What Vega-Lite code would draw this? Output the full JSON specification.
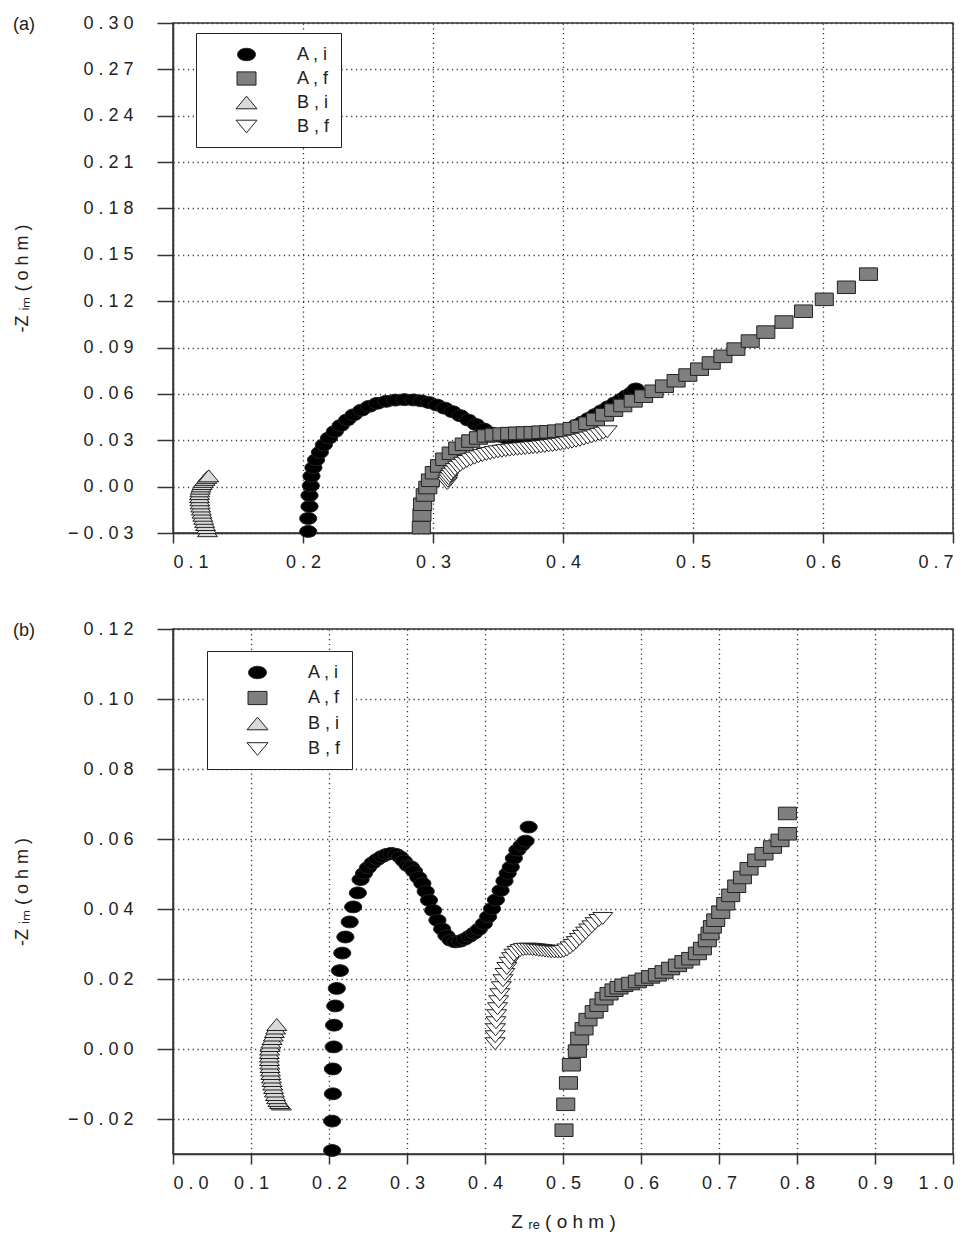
{
  "$schema": "https://vega.github.io/schema/vega-lite/v6.json",
  "background": "white",
  "padding": {"left": 12, "top": 13, "right": 0, "bottom": 0},
  "spacing": 96,
  "bounds": "flush",
  "resolve": {"legend": {"color": "independent", "shape": "independent"}},
  "datasets": {
    "a": [
      {"s":"A , i","x":0.204,"y":-0.029},{"s":"A , i","x":0.204,"y":-0.0206},{"s":"A , i","x":0.205,"y":-0.0128},{"s":"A , i","x":0.205,"y":-0.0057},{"s":"A , i","x":0.206,"y":0.0006},{"s":"A , i","x":0.2065,"y":0.0068},{"s":"A , i","x":0.208,"y":0.0123},{"s":"A , i","x":0.21,"y":0.0173},{"s":"A , i","x":0.213,"y":0.0222},{"s":"A , i","x":0.216,"y":0.027},{"s":"A , i","x":0.22,"y":0.0315},{"s":"A , i","x":0.2245,"y":0.0357},{"s":"A , i","x":0.229,"y":0.0396},{"s":"A , i","x":0.234,"y":0.0432},{"s":"A , i","x":0.239,"y":0.0465},{"s":"A , i","x":0.245,"y":0.0495},{"s":"A , i","x":0.251,"y":0.052},{"s":"A , i","x":0.257,"y":0.0539},{"s":"A , i","x":0.264,"y":0.0552},{"s":"A , i","x":0.271,"y":0.056},{"s":"A , i","x":0.278,"y":0.0563},{"s":"A , i","x":0.285,"y":0.0561},{"s":"A , i","x":0.291,"y":0.0555},{"s":"A , i","x":0.297,"y":0.0544},{"s":"A , i","x":0.303,"y":0.0528},{"s":"A , i","x":0.309,"y":0.0508},{"s":"A , i","x":0.315,"y":0.0485},{"s":"A , i","x":0.321,"y":0.0459},{"s":"A , i","x":0.327,"y":0.0431},{"s":"A , i","x":0.333,"y":0.0402},{"s":"A , i","x":0.339,"y":0.0373},{"s":"A , i","x":0.345,"y":0.0347},{"s":"A , i","x":0.351,"y":0.0326},{"s":"A , i","x":0.357,"y":0.0312},{"s":"A , i","x":0.363,"y":0.0306},{"s":"A , i","x":0.369,"y":0.0308},{"s":"A , i","x":0.375,"y":0.0314},{"s":"A , i","x":0.381,"y":0.0322},{"s":"A , i","x":0.387,"y":0.0332},{"s":"A , i","x":0.393,"y":0.0344},{"s":"A , i","x":0.399,"y":0.0358},{"s":"A , i","x":0.405,"y":0.0376},{"s":"A , i","x":0.41,"y":0.0396},{"s":"A , i","x":0.415,"y":0.0418},{"s":"A , i","x":0.42,"y":0.0442},{"s":"A , i","x":0.425,"y":0.0467},{"s":"A , i","x":0.43,"y":0.0492},{"s":"A , i","x":0.435,"y":0.0517},{"s":"A , i","x":0.44,"y":0.0542},{"s":"A , i","x":0.445,"y":0.0566},{"s":"A , i","x":0.449,"y":0.0588},{"s":"A , i","x":0.453,"y":0.0608},{"s":"A , i","x":0.456,"y":0.0632},
      {"s":"A , f","x":0.291,"y":-0.0265},{"s":"A , f","x":0.2915,"y":-0.0183},{"s":"A , f","x":0.292,"y":-0.0114},{"s":"A , f","x":0.294,"y":-0.0054},{"s":"A , f","x":0.296,"y":-0.0006},{"s":"A , f","x":0.298,"y":0.0041},{"s":"A , f","x":0.301,"y":0.009},{"s":"A , f","x":0.305,"y":0.0134},{"s":"A , f","x":0.309,"y":0.0177},{"s":"A , f","x":0.314,"y":0.0216},{"s":"A , f","x":0.319,"y":0.0248},{"s":"A , f","x":0.324,"y":0.0274},{"s":"A , f","x":0.329,"y":0.0295},{"s":"A , f","x":0.335,"y":0.0315},{"s":"A , f","x":0.341,"y":0.0328},{"s":"A , f","x":0.347,"y":0.0335},{"s":"A , f","x":0.353,"y":0.034},{"s":"A , f","x":0.359,"y":0.0343},{"s":"A , f","x":0.365,"y":0.0345},{"s":"A , f","x":0.371,"y":0.0347},{"s":"A , f","x":0.377,"y":0.0349},{"s":"A , f","x":0.383,"y":0.0352},{"s":"A , f","x":0.389,"y":0.0355},{"s":"A , f","x":0.395,"y":0.0359},{"s":"A , f","x":0.401,"y":0.0365},{"s":"A , f","x":0.407,"y":0.0375},{"s":"A , f","x":0.413,"y":0.039},{"s":"A , f","x":0.419,"y":0.041},{"s":"A , f","x":0.425,"y":0.0435},{"s":"A , f","x":0.432,"y":0.0465},{"s":"A , f","x":0.439,"y":0.0495},{"s":"A , f","x":0.446,"y":0.0525},{"s":"A , f","x":0.454,"y":0.0555},{"s":"A , f","x":0.462,"y":0.0585},{"s":"A , f","x":0.47,"y":0.0617},{"s":"A , f","x":0.478,"y":0.065},{"s":"A , f","x":0.487,"y":0.0685},{"s":"A , f","x":0.496,"y":0.0722},{"s":"A , f","x":0.505,"y":0.076},{"s":"A , f","x":0.514,"y":0.08},{"s":"A , f","x":0.523,"y":0.0843},{"s":"A , f","x":0.533,"y":0.089},{"s":"A , f","x":0.544,"y":0.0942},{"s":"A , f","x":0.556,"y":0.1},{"s":"A , f","x":0.57,"y":0.1065},{"s":"A , f","x":0.585,"y":0.1135},{"s":"A , f","x":0.601,"y":0.1212},{"s":"A , f","x":0.618,"y":0.129},{"s":"A , f","x":0.635,"y":0.1375},
      {"s":"B , i","x":0.1265,"y":-0.0285},{"s":"B , i","x":0.1258,"y":-0.0265},{"s":"B , i","x":0.125,"y":-0.0245},{"s":"B , i","x":0.1243,"y":-0.0225},{"s":"B , i","x":0.1236,"y":-0.0205},{"s":"B , i","x":0.1229,"y":-0.0185},{"s":"B , i","x":0.1223,"y":-0.0165},{"s":"B , i","x":0.1218,"y":-0.0145},{"s":"B , i","x":0.1213,"y":-0.0125},{"s":"B , i","x":0.1209,"y":-0.0105},{"s":"B , i","x":0.1206,"y":-0.0085},{"s":"B , i","x":0.1204,"y":-0.0065},{"s":"B , i","x":0.1204,"y":-0.0045},{"s":"B , i","x":0.1206,"y":-0.0027},{"s":"B , i","x":0.121,"y":-0.001},{"s":"B , i","x":0.1216,"y":0.0005},{"s":"B , i","x":0.1224,"y":0.002},{"s":"B , i","x":0.1234,"y":0.0034},{"s":"B , i","x":0.1246,"y":0.0047},{"s":"B , i","x":0.126,"y":0.006},{"s":"B , i","x":0.1275,"y":0.007},
      {"s":"B , f","x":0.311,"y":0.002},{"s":"B , f","x":0.3115,"y":0.0035},{"s":"B , f","x":0.312,"y":0.005},{"s":"B , f","x":0.313,"y":0.0065},{"s":"B , f","x":0.314,"y":0.008},{"s":"B , f","x":0.3155,"y":0.0095},{"s":"B , f","x":0.317,"y":0.011},{"s":"B , f","x":0.319,"y":0.0125},{"s":"B , f","x":0.321,"y":0.0138},{"s":"B , f","x":0.3235,"y":0.0151},{"s":"B , f","x":0.326,"y":0.0163},{"s":"B , f","x":0.329,"y":0.0174},{"s":"B , f","x":0.332,"y":0.0184},{"s":"B , f","x":0.335,"y":0.0193},{"s":"B , f","x":0.338,"y":0.0201},{"s":"B , f","x":0.341,"y":0.0208},{"s":"B , f","x":0.344,"y":0.0214},{"s":"B , f","x":0.347,"y":0.022},{"s":"B , f","x":0.35,"y":0.0225},{"s":"B , f","x":0.353,"y":0.0229},{"s":"B , f","x":0.356,"y":0.0233},{"s":"B , f","x":0.359,"y":0.0236},{"s":"B , f","x":0.362,"y":0.0239},{"s":"B , f","x":0.365,"y":0.0242},{"s":"B , f","x":0.368,"y":0.0244},{"s":"B , f","x":0.371,"y":0.0247},{"s":"B , f","x":0.374,"y":0.0249},{"s":"B , f","x":0.377,"y":0.0252},{"s":"B , f","x":0.38,"y":0.0254},{"s":"B , f","x":0.383,"y":0.0257},{"s":"B , f","x":0.386,"y":0.026},{"s":"B , f","x":0.389,"y":0.0263},{"s":"B , f","x":0.392,"y":0.0266},{"s":"B , f","x":0.395,"y":0.027},{"s":"B , f","x":0.398,"y":0.0274},{"s":"B , f","x":0.401,"y":0.0278},{"s":"B , f","x":0.404,"y":0.0283},{"s":"B , f","x":0.407,"y":0.0288},{"s":"B , f","x":0.41,"y":0.0294},{"s":"B , f","x":0.413,"y":0.03},{"s":"B , f","x":0.416,"y":0.0307},{"s":"B , f","x":0.419,"y":0.0314},{"s":"B , f","x":0.422,"y":0.0321},{"s":"B , f","x":0.425,"y":0.0329},{"s":"B , f","x":0.428,"y":0.0337},{"s":"B , f","x":0.431,"y":0.0346},{"s":"B , f","x":0.434,"y":0.0355}
    ],
    "b": [
      {"s":"A , i","x":0.204,"y":-0.029},{"s":"A , i","x":0.204,"y":-0.0206},{"s":"A , i","x":0.205,"y":-0.0128},{"s":"A , i","x":0.205,"y":-0.0057},{"s":"A , i","x":0.206,"y":0.0006},{"s":"A , i","x":0.2065,"y":0.0068},{"s":"A , i","x":0.208,"y":0.0123},{"s":"A , i","x":0.21,"y":0.0173},{"s":"A , i","x":0.214,"y":0.0224},{"s":"A , i","x":0.217,"y":0.0274},{"s":"A , i","x":0.221,"y":0.032},{"s":"A , i","x":0.2265,"y":0.0363},{"s":"A , i","x":0.231,"y":0.0406},{"s":"A , i","x":0.237,"y":0.0446},{"s":"A , i","x":0.2405,"y":0.0484},{"s":"A , i","x":0.245,"y":0.0502},{"s":"A , i","x":0.25,"y":0.0518},{"s":"A , i","x":0.256,"y":0.0532},{"s":"A , i","x":0.262,"y":0.0542},{"s":"A , i","x":0.268,"y":0.055},{"s":"A , i","x":0.274,"y":0.0556},{"s":"A , i","x":0.28,"y":0.0559},{"s":"A , i","x":0.286,"y":0.0556},{"s":"A , i","x":0.291,"y":0.0549},{"s":"A , i","x":0.296,"y":0.0537},{"s":"A , i","x":0.301,"y":0.0524},{"s":"A , i","x":0.305,"y":0.052},{"s":"A , i","x":0.309,"y":0.0508},{"s":"A , i","x":0.3145,"y":0.049},{"s":"A , i","x":0.3197,"y":0.0473},{"s":"A , i","x":0.324,"y":0.045},{"s":"A , i","x":0.3282,"y":0.0425},{"s":"A , i","x":0.3335,"y":0.0396},{"s":"A , i","x":0.339,"y":0.0368},{"s":"A , i","x":0.345,"y":0.0343},{"s":"A , i","x":0.3505,"y":0.0324},{"s":"A , i","x":0.356,"y":0.0311},{"s":"A , i","x":0.362,"y":0.0306},{"s":"A , i","x":0.368,"y":0.0308},{"s":"A , i","x":0.374,"y":0.0314},{"s":"A , i","x":0.38,"y":0.0322},{"s":"A , i","x":0.386,"y":0.0331},{"s":"A , i","x":0.392,"y":0.0342},{"s":"A , i","x":0.3985,"y":0.0358},{"s":"A , i","x":0.404,"y":0.0378},{"s":"A , i","x":0.409,"y":0.0401},{"s":"A , i","x":0.414,"y":0.0426},{"s":"A , i","x":0.42,"y":0.0453},{"s":"A , i","x":0.425,"y":0.048},{"s":"A , i","x":0.429,"y":0.0502},{"s":"A , i","x":0.433,"y":0.052},{"s":"A , i","x":0.437,"y":0.0545},{"s":"A , i","x":0.4415,"y":0.0568},{"s":"A , i","x":0.447,"y":0.0582},{"s":"A , i","x":0.452,"y":0.0594},{"s":"A , i","x":0.456,"y":0.0634},
      {"s":"A , f","x":0.5013,"y":-0.0232},{"s":"A , f","x":0.5035,"y":-0.0158},{"s":"A , f","x":0.507,"y":-0.0097},{"s":"A , f","x":0.5108,"y":-0.0045},{"s":"A , f","x":0.5184,"y":-0.0006},{"s":"A , f","x":0.5214,"y":0.003},{"s":"A , f","x":0.527,"y":0.0058},{"s":"A , f","x":0.532,"y":0.0084},{"s":"A , f","x":0.54,"y":0.0106},{"s":"A , f","x":0.546,"y":0.0125},{"s":"A , f","x":0.5526,"y":0.0144},{"s":"A , f","x":0.559,"y":0.0158},{"s":"A , f","x":0.5654,"y":0.0168},{"s":"A , f","x":0.5718,"y":0.0175},{"s":"A , f","x":0.578,"y":0.0182},{"s":"A , f","x":0.5868,"y":0.0187},{"s":"A , f","x":0.5954,"y":0.0193},{"s":"A , f","x":0.6039,"y":0.0199},{"s":"A , f","x":0.6124,"y":0.0206},{"s":"A , f","x":0.621,"y":0.0212},{"s":"A , f","x":0.6295,"y":0.022},{"s":"A , f","x":0.638,"y":0.023},{"s":"A , f","x":0.6467,"y":0.0239},{"s":"A , f","x":0.655,"y":0.0249},{"s":"A , f","x":0.6637,"y":0.0258},{"s":"A , f","x":0.6723,"y":0.0273},{"s":"A , f","x":0.6787,"y":0.0287},{"s":"A , f","x":0.685,"y":0.031},{"s":"A , f","x":0.6885,"y":0.033},{"s":"A , f","x":0.6915,"y":0.0349},{"s":"A , f","x":0.6958,"y":0.0368},{"s":"A , f","x":0.7022,"y":0.0391},{"s":"A , f","x":0.7086,"y":0.0415},{"s":"A , f","x":0.715,"y":0.0439},{"s":"A , f","x":0.7227,"y":0.0465},{"s":"A , f","x":0.73,"y":0.049},{"s":"A , f","x":0.7385,"y":0.0515},{"s":"A , f","x":0.7483,"y":0.0539},{"s":"A , f","x":0.7577,"y":0.0558},{"s":"A , f","x":0.7685,"y":0.0577},{"s":"A , f","x":0.7782,"y":0.0596},{"s":"A , f","x":0.7877,"y":0.0615},{"s":"A , f","x":0.7877,"y":0.0673},
      {"s":"B , i","x":0.139,"y":-0.0157},{"s":"B , i","x":0.1365,"y":-0.0153},{"s":"B , i","x":0.1345,"y":-0.0147},{"s":"B , i","x":0.1328,"y":-0.0139},{"s":"B , i","x":0.1313,"y":-0.013},{"s":"B , i","x":0.13,"y":-0.012},{"s":"B , i","x":0.1289,"y":-0.011},{"s":"B , i","x":0.1279,"y":-0.01},{"s":"B , i","x":0.127,"y":-0.009},{"s":"B , i","x":0.1262,"y":-0.008},{"s":"B , i","x":0.1255,"y":-0.007},{"s":"B , i","x":0.1249,"y":-0.006},{"s":"B , i","x":0.1244,"y":-0.005},{"s":"B , i","x":0.124,"y":-0.004},{"s":"B , i","x":0.1237,"y":-0.003},{"s":"B , i","x":0.1235,"y":-0.002},{"s":"B , i","x":0.1235,"y":-0.001},{"s":"B , i","x":0.1238,"y":0.0},{"s":"B , i","x":0.1245,"y":0.001},{"s":"B , i","x":0.1255,"y":0.002},{"s":"B , i","x":0.127,"y":0.003},{"s":"B , i","x":0.1285,"y":0.004},{"s":"B , i","x":0.13,"y":0.005},{"s":"B , i","x":0.1315,"y":0.006},{"s":"B , i","x":0.133,"y":0.007},
      {"s":"B , f","x":0.413,"y":0.0015},{"s":"B , f","x":0.413,"y":0.0035},{"s":"B , f","x":0.4135,"y":0.0055},{"s":"B , f","x":0.414,"y":0.0075},{"s":"B , f","x":0.415,"y":0.0095},{"s":"B , f","x":0.416,"y":0.0115},{"s":"B , f","x":0.4175,"y":0.0135},{"s":"B , f","x":0.419,"y":0.0155},{"s":"B , f","x":0.421,"y":0.0175},{"s":"B , f","x":0.423,"y":0.0195},{"s":"B , f","x":0.4255,"y":0.0213},{"s":"B , f","x":0.428,"y":0.023},{"s":"B , f","x":0.431,"y":0.0245},{"s":"B , f","x":0.434,"y":0.0258},{"s":"B , f","x":0.437,"y":0.0268},{"s":"B , f","x":0.441,"y":0.0276},{"s":"B , f","x":0.445,"y":0.0281},{"s":"B , f","x":0.449,"y":0.0284},{"s":"B , f","x":0.453,"y":0.0285},{"s":"B , f","x":0.457,"y":0.0285},{"s":"B , f","x":0.461,"y":0.0284},{"s":"B , f","x":0.465,"y":0.0283},{"s":"B , f","x":0.469,"y":0.0282},{"s":"B , f","x":0.473,"y":0.0281},{"s":"B , f","x":0.477,"y":0.028},{"s":"B , f","x":0.481,"y":0.0279},{"s":"B , f","x":0.485,"y":0.0278},{"s":"B , f","x":0.489,"y":0.0277},{"s":"B , f","x":0.493,"y":0.0277},{"s":"B , f","x":0.497,"y":0.0277},{"s":"B , f","x":0.501,"y":0.0279},{"s":"B , f","x":0.505,"y":0.0283},{"s":"B , f","x":0.509,"y":0.0289},{"s":"B , f","x":0.513,"y":0.0296},{"s":"B , f","x":0.517,"y":0.0304},{"s":"B , f","x":0.521,"y":0.0313},{"s":"B , f","x":0.525,"y":0.0322},{"s":"B , f","x":0.529,"y":0.0331},{"s":"B , f","x":0.533,"y":0.034},{"s":"B , f","x":0.537,"y":0.0349},{"s":"B , f","x":0.541,"y":0.0358},{"s":"B , f","x":0.546,"y":0.0367},{"s":"B , f","x":0.551,"y":0.0373}
    ]
  },
  "vconcat": [
    {
      "width": 780,
      "height": 510,
      "data": {"name": "a"},
      "title": {"text": "(a)", "anchor": "start", "frame": "group", "dx": -160, "dy": 20, "offset": 0, "fontSize": 18, "fontWeight": "normal", "font": "Liberation Sans", "color": "#222"},
      "mark": {"type": "point", "filled": true, "opacity": 1, "stroke": "#222", "strokeWidth": 1, "size": 361},
      "encoding": {
        "x": {"field": "x", "type": "quantitative", "scale": {"domain": [0.1, 0.7], "nice": false, "zero": false},
          "axis": {"title": null, "values": [0.1, 0.2, 0.3, 0.4, 0.5, 0.6, 0.7], "labelExpr": "join(split(format(datum.value,'.1f'),''),' ')"}},
        "y": {"field": "y", "type": "quantitative", "scale": {"domain": [-0.03, 0.3], "nice": false, "zero": false},
          "axis": {"title": "-Z ᵢₘ ( o h m )", "values": [-0.03, 0, 0.03, 0.06, 0.09, 0.12, 0.15, 0.18, 0.21, 0.24, 0.27, 0.3], "labelExpr": "join(split(format(datum.value,'.2f'),''),' ')"}},
        "color": {"field": "s", "type": "nominal", "sort": null,
          "scale": {"domain": ["A , i", "A , f", "B , i", "B , f"], "range": ["#000000", "#7f7f7f", "#d9d9d9", "#ffffff"]},
          "legend": {"orient": "none", "legendX": 23, "legendY": 10, "rowPadding": 4, "encode": {"symbols": {"update": {"stroke": {"value": "#222"}, "strokeWidth": {"value": 1}}}}}},
        "shape": {"field": "s", "type": "nominal", "sort": null,
          "scale": {"domain": ["A , i", "A , f", "B , i", "B , f"], "range": ["M-0.9,0A0.9,0.62,0,1,1,0.9,0A0.9,0.62,0,1,1,-0.9,0Z", "M-0.95,-0.66L0.95,-0.66L0.95,0.66L-0.95,0.66Z", "M0,-0.63L1.05,0.63L-1.05,0.63Z", "M-1.05,-0.63L1.05,-0.63L0,0.63Z"]},
          "legend": {"orient": "none", "legendX": 23, "legendY": 10, "rowPadding": 4, "encode": {"symbols": {"update": {"stroke": {"value": "#222"}, "strokeWidth": {"value": 1}}}}}}
      }
    },
    {
      "width": 780,
      "height": 525,
      "data": {"name": "b"},
      "title": {"text": "(b)", "anchor": "start", "frame": "group", "dx": -160, "dy": 20, "offset": 0, "fontSize": 18, "fontWeight": "normal", "font": "Liberation Sans", "color": "#222"},
      "mark": {"type": "point", "filled": true, "opacity": 1, "stroke": "#222", "strokeWidth": 1, "size": 361},
      "encoding": {
        "x": {"field": "x", "type": "quantitative", "scale": {"domain": [0, 1], "nice": false, "zero": false},
          "axis": {"title": "Z ᵣₑ ( o h m )", "values": [0, 0.1, 0.2, 0.3, 0.4, 0.5, 0.6, 0.7, 0.8, 0.9, 1.0], "labelExpr": "join(split(format(datum.value,'.1f'),''),' ')"}},
        "y": {"field": "y", "type": "quantitative", "scale": {"domain": [-0.03, 0.12], "nice": false, "zero": false},
          "axis": {"title": "-Z ᵢₘ ( o h m )", "values": [-0.02, 0, 0.02, 0.04, 0.06, 0.08, 0.1, 0.12], "labelExpr": "join(split(format(datum.value,'.2f'),''),' ')"}},
        "color": {"field": "s", "type": "nominal", "sort": null,
          "scale": {"domain": ["A , i", "A , f", "B , i", "B , f"], "range": ["#000000", "#7f7f7f", "#d9d9d9", "#ffffff"]},
          "legend": {"orient": "none", "legendX": 34, "legendY": 22, "rowPadding": 5.5, "encode": {"symbols": {"update": {"stroke": {"value": "#222"}, "strokeWidth": {"value": 1}}}}}},
        "shape": {"field": "s", "type": "nominal", "sort": null,
          "scale": {"domain": ["A , i", "A , f", "B , i", "B , f"], "range": ["M-0.9,0A0.9,0.62,0,1,1,0.9,0A0.9,0.62,0,1,1,-0.9,0Z", "M-0.95,-0.66L0.95,-0.66L0.95,0.66L-0.95,0.66Z", "M0,-0.63L1.05,0.63L-1.05,0.63Z", "M-1.05,-0.63L1.05,-0.63L0,0.63Z"]},
          "legend": {"orient": "none", "legendX": 34, "legendY": 22, "rowPadding": 5.5, "encode": {"symbols": {"update": {"stroke": {"value": "#222"}, "strokeWidth": {"value": 1}}}}}}
      }
    }
  ],
  "config": {
    "font": "Liberation Sans",
    "view": {"stroke": "#333", "strokeWidth": 1.5},
    "axis": {"labelFont": "Liberation Sans", "labelFontSize": 18, "labelColor": "#222", "titleFont": "Liberation Sans", "titleFontSize": 18, "titleFontWeight": "normal", "titleColor": "#222", "domainColor": "#333", "domainWidth": 1.5, "tickColor": "#333", "tickWidth": 1.5, "grid": true, "gridColor": "#333", "gridDash": [1.2, 3.6], "gridWidth": 1.3, "gridOpacity": 1, "labelOverlap": false},
    "axisY": {"tickSize": 16, "labelPadding": 24, "titlePadding": 36},
    "axisX": {"tickSize": 10, "labelPadding": 10, "titlePadding": 20, "titleFontSize": 19},
    "legend": {"title": null, "fillColor": "white", "strokeColor": "#222", "padding": 11, "symbolSize": 400, "symbolOffset": 29, "labelOffset": 40, "labelFont": "Liberation Sans", "labelFontSize": 18, "labelColor": "#222", "symbolStrokeColor": "#222", "symbolStrokeWidth": 1, "symbolOpacity": 1, "labelExpr": "datum.label + '\u00a0\u00a0'"}
  }
}
